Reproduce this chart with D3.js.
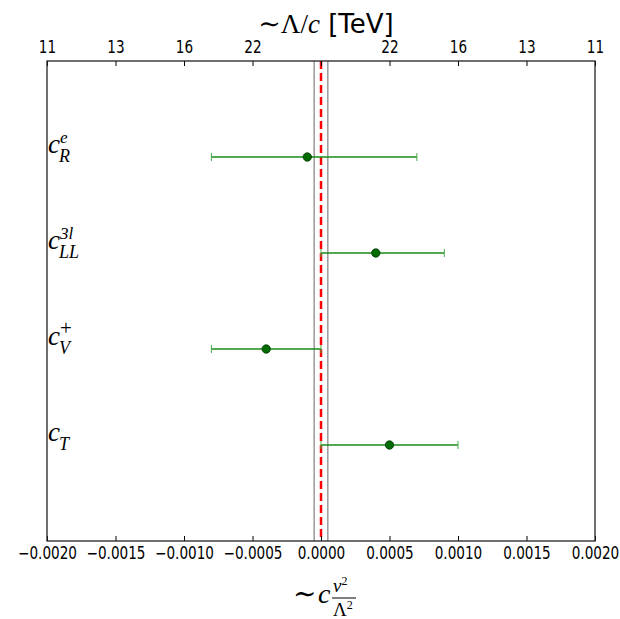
<!DOCTYPE html>
<html>
<head>
<meta charset="utf-8">
<script src="https://cdn.jsdelivr.net/npm/d3@7"></script>
<style>
  body { margin: 0; background: #fff; }
  svg { display: block; }
</style>
</head>
<body>
<div id="chart"></div>
<script>
// coefficients, top to bottom
const coefSub = ["R", "LL", "V", "T"];
const coefSup = ["e", "3l", "+", ""];
const coefPos = [4, 3, 2, 1];

const central = [-0.0001, 0.0004, -0.0004, 0.0005];
const lower = [-0.0008, 0.0, -0.0008, 0.0];
const upper = [0.0007, 0.0009, 0.0, 0.0010];

const xTicks = [-0.002, -0.0015, -0.001, -0.0005, 0, 0.0005, 0.001, 0.0015, 0.002];
const topTickLabels = ["11", "13", "16", "22", "", "22", "16", "13", "11"];

const bandHalf = 0.00005;

const width = 620, height = 619;
const margin = {top: 61, right: 25, bottom: 78, left: 47};

const svg = d3.select("#chart").append("svg")
    .attr("width", width)
    .attr("height", height);

const x = d3.scaleLinear()
    .domain([-0.002, 0.002])
    .range([margin.left, width - margin.right]);

const y = d3.scaleLinear()
    .domain([0, 5])
    .range([height - margin.bottom, margin.top]);

const mathFont = "'Liberation Serif', 'DejaVu Serif', serif";
const sansFont = "'DejaVu Sans', sans-serif";

// grey band lines around zero
svg.selectAll(".band")
    .data([-bandHalf, bandHalf])
    .enter()
    .append("line")
    .attr("x1", d => x(d))
    .attr("x2", d => x(d))
    .attr("y1", y(5))
    .attr("y2", y(0))
    .attr("stroke", "#808080")
    .attr("stroke-width", 1.2);

// red dashed zero line
svg.append("line")
    .attr("x1", x(0))
    .attr("x2", x(0))
    .attr("y1", y(5))
    .attr("y2", y(0))
    .attr("stroke", "#ff0000")
    .attr("stroke-width", 2.5)
    .attr("stroke-dasharray", "8,4");

// error bars
const bars = svg.append("g");
coefPos.forEach((p, i) => {
    const yy = y(p);
    bars.append("line")
        .attr("x1", x(lower[i]))
        .attr("x2", x(upper[i]))
        .attr("y1", yy)
        .attr("y2", yy)
        .attr("stroke", "#188c18")
        .attr("stroke-width", 1.4);
    [lower[i], upper[i]].forEach(v => {
        bars.append("line")
            .attr("x1", x(v))
            .attr("x2", x(v))
            .attr("y1", yy - 4)
            .attr("y2", yy + 4)
            .attr("stroke", "#4aa84a")
            .attr("stroke-width", 1);
    });
    bars.append("circle")
        .attr("cx", x(central[i]))
        .attr("cy", yy)
        .attr("r", 4.2)
        .attr("fill", "#006b00")
        .attr("stroke", "#003300")
        .attr("stroke-width", 0.8);
});

// axes
const fmt = d3.format(".4f");
const bottomAxis = d3.axisBottom(x)
    .tickValues(xTicks)
    .tickFormat(fmt)
    .tickSizeInner(-5)
    .tickSizeOuter(0)
    .tickPadding(6);

const topAxis = d3.axisTop(x)
    .tickValues(xTicks)
    .tickFormat((d, i) => topTickLabels[i])
    .tickSizeInner(-5)
    .tickSizeOuter(0)
    .tickPadding(8);

const gB = svg.append("g")
    .attr("transform", `translate(0,${y(0)})`)
    .call(bottomAxis);
const gT = svg.append("g")
    .attr("transform", `translate(0,${y(5)})`)
    .call(topAxis);

[gB, gT].forEach(g => {
    g.select(".domain").remove();
    g.selectAll(".tick line").attr("stroke", "#000").attr("stroke-width", 1);
    g.selectAll(".tick text")
        .attr("font-family", sansFont)
        .attr("font-size", 17)
        .attr("transform", "scale(0.8,1)")
        .attr("fill", "#000");
});

// frame
svg.append("rect")
    .attr("x", x(-0.002))
    .attr("y", y(5))
    .attr("width", x(0.002) - x(-0.002))
    .attr("height", y(0) - y(5))
    .attr("fill", "none")
    .attr("stroke", "#222")
    .attr("stroke-width", 1.3);

// coefficient labels
coefPos.forEach((p, i) => {
    const base = y(p) - 4;
    const lx = x(-0.002) + 1;
    svg.append("text")
        .attr("x", lx)
        .attr("y", base)
        .attr("font-family", mathFont)
        .attr("font-style", "italic")
        .attr("font-size", 27)
        .text("c");
    svg.append("text")
        .attr("x", lx + 11)
        .attr("y", base + 9)
        .attr("font-family", mathFont)
        .attr("font-style", "italic")
        .attr("font-size", 18)
        .text(coefSub[i]);
    if (coefSup[i]) {
        svg.append("text")
            .attr("x", lx + 12)
            .attr("y", base - 10)
            .attr("font-family", mathFont)
            .attr("font-style", coefSup[i] === "+" ? "normal" : "italic")
            .attr("font-size", coefSup[i] === "+" ? 21 : 17)
            .text(coefSup[i]);
    }
});

// top title
const title = svg.append("text")
    .attr("x", x(0) + 5)
    .attr("y", 33)
    .attr("text-anchor", "middle")
    .attr("font-size", 27);
title.append("tspan").attr("font-family", mathFont).text("\u223CΛ/");
title.append("tspan").attr("font-family", mathFont).attr("font-style", "italic").text("c");
title.append("tspan").attr("font-family", sansFont).attr("font-size", 26).text(" [TeV]");

// bottom label ~ c v^2/Λ^2
const cx0 = x(0);
const xl = svg.append("g").attr("font-family", mathFont);
xl.append("text")
    .attr("x", cx0 - 28)
    .attr("y", 603)
    .attr("font-size", 28)
    .text("\u223C");
xl.append("text")
    .attr("x", cx0 - 3)
    .attr("y", 603)
    .attr("font-size", 28)
    .attr("font-style", "italic")
    .text("c");
const num = xl.append("text")
    .attr("x", cx0 + 12)
    .attr("y", 592)
    .attr("font-size", 19)
    .attr("font-style", "italic");
num.append("tspan").text("v");
num.append("tspan").attr("font-size", 12).attr("dy", -7).attr("font-style", "normal").text("2");
xl.append("line")
    .attr("x1", cx0 + 11)
    .attr("x2", cx0 + 35)
    .attr("y1", 598)
    .attr("y2", 598)
    .attr("stroke", "#000")
    .attr("stroke-width", 1);
const den = xl.append("text")
    .attr("x", cx0 + 12)
    .attr("y", 616)
    .attr("font-size", 19);
den.append("tspan").text("Λ");
den.append("tspan").attr("font-size", 12).attr("dy", -7).text("2");
</script>
</body>
</html>
